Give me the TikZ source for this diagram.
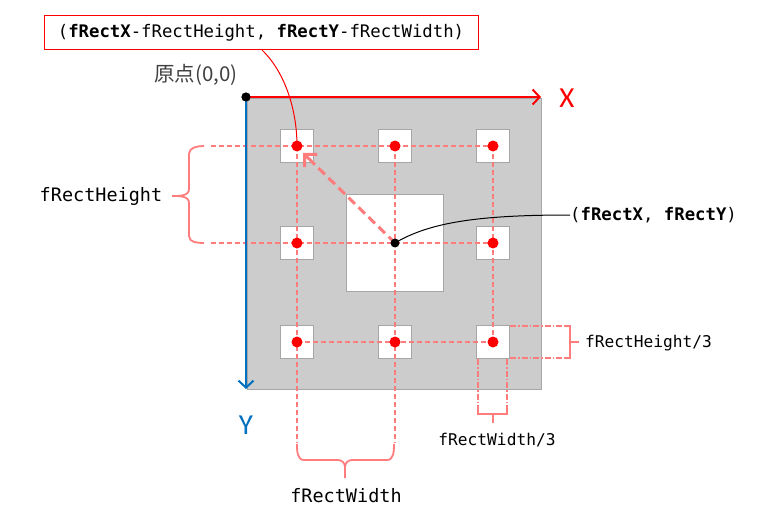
\documentclass[tikz,border=0pt]{standalone}
\usepackage{fontspec}
\setmonofont{DejaVu Sans Mono}
\newfontfamily\jpfont{Noto Sans CJK JP}
\newfontfamily\axfont{Carlito}
\usetikzlibrary{arrows.meta,calc}
\definecolor{lred}{HTML}{FF7C7C}
\definecolor{sqgray}{HTML}{A6A6A6}
\definecolor{bggray}{HTML}{CCCCCC}
\definecolor{axblue}{HTML}{0070C0}
\tikzset{
  guide/.style={draw=lred, line width=1.4pt, dash pattern=on 5pt off 3pt},
  guidedd/.style={draw=lred, line width=1.4pt, dash pattern=on 6pt off 2pt on 1.5pt off 2pt},
  bracestyle/.style={draw=lred, line width=1.8pt},
  brk/.style={draw=lred, line width=1.6pt},
  sq/.style={draw=sqgray, fill=white, minimum size=33pt, inner sep=0pt, line width=1pt},
  rdot/.style={circle, fill=red, minimum size=11pt, inner sep=0pt},
  bdot/.style={circle, fill=black, minimum size=9pt, inner sep=0pt},
  lbl/.style={font=\ttfamily\fontsize{17.3}{20}\selectfont, inner sep=0pt},
  biglbl/.style={font=\ttfamily\fontsize{18.5}{22}\selectfont, inner sep=0pt},
  smlbl/.style={font=\ttfamily\fontsize{16.2}{19}\selectfont, inner sep=0pt},
}
\begin{document}
\begin{tikzpicture}[x=1pt,y=-1pt]
\useasboundingbox (0,0) rectangle (782,527);
% background square
\node[draw=sqgray, fill=bggray, line width=1pt, minimum width=294pt, minimum height=291pt, inner sep=0pt, anchor=north west] (bg) at (247,98) {};
% centre square
\node[draw=sqgray, fill=white, line width=1pt, minimum size=97pt, inner sep=0pt] (big) at (394.5,242.5) {};
% small squares
\foreach \i/\x in {1/297,2/395,3/493}{
  \foreach \j/\y in {1/146,2/243,3/342}{
    \ifnum\i=2 \ifnum\j=2 \else \node[sq] (s\i\j) at (\x,\y) {}; \fi
    \else \node[sq] (s\i\j) at (\x,\y) {}; \fi
  }
}
% guide coordinates
\coordinate (gl1) at (211,146);
\coordinate (gl2) at (211,243);
\coordinate (gb1) at (297,443);
\coordinate (gb2) at (395,443);
\coordinate (c) at (395,243);
% dashed guides
\draw[guide] (gl1) -- (s31.center);
\draw[guide] (gl2) -- (s32.center);
\draw[guide] (s13.center) -- (s33.center);
\draw[guide] (s11.center) -- (gb1);
\draw[guide] (s21.center) -- (gb2);
\draw[guide] (s31.center) -- (s33.center);
% dash-dot guides for the small square size
\coordinate (rh1) at (564,326);
\coordinate (rh2) at (564,358);
\coordinate (bv1) at (478,408);
\coordinate (bv2) at (507,408);
\draw[guidedd] (510,326) -- (rh1);
\draw[guidedd] (510,358) -- (rh2);
\draw[guidedd] (478,359) -- (bv1);
\draw[guidedd] (507,359) -- (bv2);
\draw[brk] (rh1) -- (570,326) -- (570,358) -- (rh2);
\draw[brk] (570,342) -- (579,342);
\draw[brk] (bv1) -- (478,414) -- (507,414) -- (bv2);
\draw[brk] (493,414) -- (493,423);
% curly braces
\draw[bracestyle] (204,146) to[out=180,in=90] (189,154) -- (189,189) to[out=-90,in=0] (172,196);
\draw[bracestyle] (172,196) to[out=0,in=90] (189,203) -- (189,236) to[out=-90,in=180] (204,243);
\draw[bracestyle] (297,444) to[out=-90,in=180] (304,460) -- (338,460) to[out=0,in=90] (345,467) -- (345,478);
\draw[bracestyle] (345,467) to[out=90,in=180] (352,460) -- (387,460) to[out=0,in=-90] (394,444);
% dashed arrow
\coordinate (atip) at (303,153);
\coordinate (abase) at ($(atip)!12pt!(c)$);
\draw[draw=lred, line width=3pt, dash pattern=on 9pt off 5pt] (c) -- (abase);
\draw[draw=lred, line width=3pt, -{Straight Barb[length=9pt,width=18pt,line width=3pt]}] (abase) -- (atip);
% dots
\foreach \n in {s11,s21,s31,s12,s32,s13,s23,s33}{
  \node[rdot] at (\n.center) {};
}
\node[bdot] (cd) at (c) {};
% axes
\node[bdot] (o) at (246,97) {};
\coordinate (xend) at (541,97);
\coordinate (yend) at (246,389);
\draw[red, line width=2.2pt, -{Straight Barb[length=7pt,width=15pt,line width=2pt]}] (o.center) -- (xend);
\draw[axblue, line width=2.2pt, -{Straight Barb[length=7pt,width=15pt,line width=2pt]}] (o.center) -- (yend);
\node[bdot] at (246,97) {};
\node[text=red, font=\axfont\fontsize{29}{30}\selectfont, inner sep=0pt] (xl) at (567,98) {X};
\node[text=axblue, font=\axfont\fontsize{29}{30}\selectfont, inner sep=0pt] (yl) at (246,425) {Y};
\node[text=black!75, font=\jpfont\fontsize{20.5}{24}\selectfont, inner sep=0pt] (orig) at (196,75) {原点(0,0)};
% labels
\node[draw=red, line width=1pt, minimum width=434pt, minimum height=34pt, lbl] (topbox) at (261,33) {(\textbf{fRectX}-fRectHeight, \textbf{fRectY}-fRectWidth)};
\draw[red, line width=1pt] (262,50) .. controls (285,72) and (297,110) .. (s11.center);
\node[lbl, anchor=west] (cl) at (570,215) {(\textbf{fRectX}, \textbf{fRectY})};
\draw[black, line width=1pt] (cd.center) .. controls (430,222) and (480,215) .. (cl.west);
\node[biglbl] (hl) at (101,196) {fRectHeight};
\node[biglbl] (wl) at (346,496) {fRectWidth};
\node[smlbl, anchor=west] (h3) at (585,343) {fRectHeight/3};
\node[smlbl] (w3) at (497,440) {fRectWidth/3};
\end{tikzpicture}
\end{document}
